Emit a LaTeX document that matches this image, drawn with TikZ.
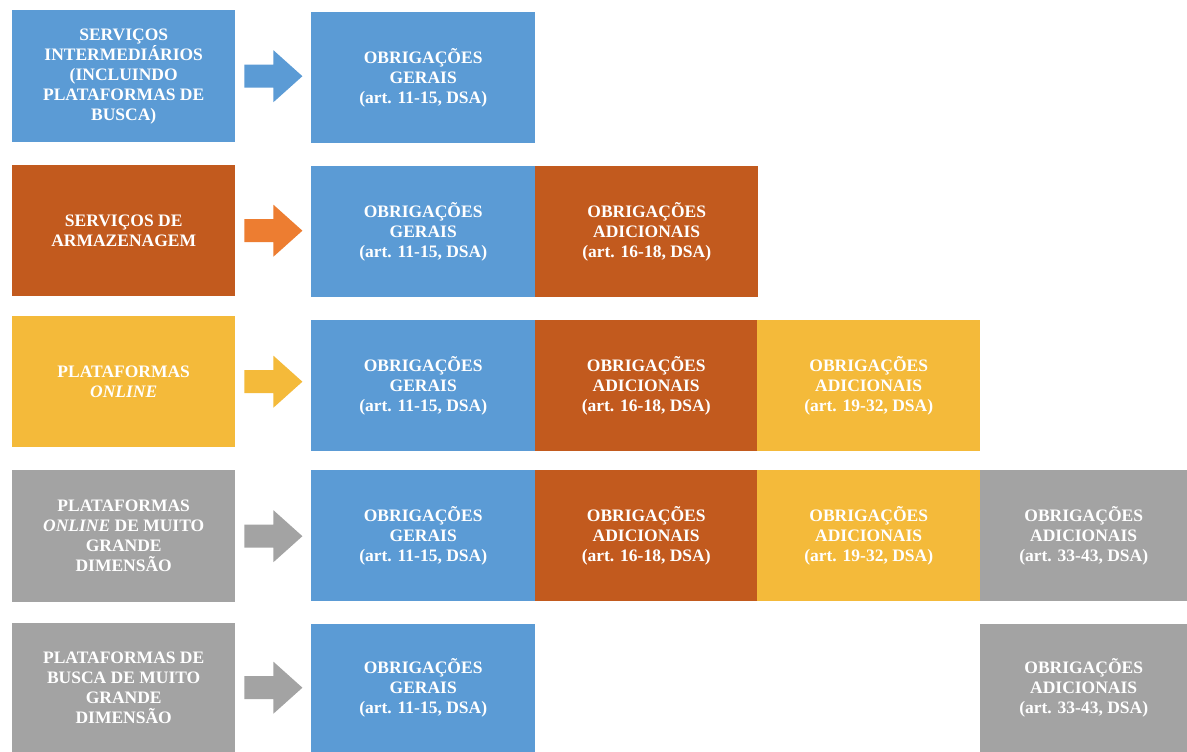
\documentclass[tikz,border=0pt]{standalone}
\usepackage{fontspec}
\setmainfont{Liberation Serif}
\usetikzlibrary{calc}
\definecolor{cblue}{HTML}{5B9BD5}
\definecolor{corange}{HTML}{C25A1E}
\definecolor{carrow}{HTML}{ED7D31}
\definecolor{cyellow}{HTML}{F4BA3A}
\definecolor{cgray}{HTML}{A3A3A3}
\tikzset{
  box/.style={anchor=north west, inner sep=0pt, text=white,
    font=\bfseries\fontsize{17.5}{20}\selectfont, align=center},
  lbox/.style={box, minimum width=223pt, minimum height=132pt},
  bluebox/.style={box, fill=cblue},
  orangebox/.style={box, fill=corange},
  yellowbox/.style={box, fill=cyellow},
  graybox/.style={box, fill=cgray},
}
\newcommand\blockarr[2]{%
  \fill[#2] ($(#1.east)+(9,-11.5)$) -- ($(#1.east)+(38,-11.5)$) -- ($(#1.east)+(38,-26)$)
    -- ($(#1.east)+(67,0)$) -- ($(#1.east)+(38,26)$) -- ($(#1.east)+(38,11.5)$)
    -- ($(#1.east)+(9,11.5)$) -- cycle;}
\begin{document}
\begin{tikzpicture}[x=1pt,y=-1pt]
\useasboundingbox[fill=white] (0,0) rectangle (1187,752);
% row 1
\node[lbox, fill=cblue, minimum height=132pt] (l1) at (12,10)
  {SERVIÇOS\\INTERMEDIÁRIOS\\(INCLUINDO\\PLATAFORMAS DE\\BUSCA)};
\node[bluebox, minimum width=224pt, minimum height=131pt] (g1) at (311,12)
  {OBRIGAÇÕES\\GERAIS\\(art. 11-15, DSA)};
\blockarr{l1}{cblue}
% row 2
\node[lbox, fill=corange, minimum height=131pt] (l2) at (12,165)
  {SERVIÇOS DE\\ARMAZENAGEM};
\node[bluebox, minimum width=224pt, minimum height=131pt] (g2) at (311,166)
  {OBRIGAÇÕES\\GERAIS\\(art. 11-15, DSA)};
\node[orangebox, minimum width=223pt, minimum height=131pt] (a2) at (535,166)
  {OBRIGAÇÕES\\ADICIONAIS\\(art. 16-18, DSA)};
\blockarr{l2}{carrow}
% row 3
\node[lbox, fill=cyellow, minimum height=131pt] (l3) at (12,316)
  {PLATAFORMAS\\\textit{ONLINE}};
\node[bluebox, minimum width=224pt, minimum height=131pt] (g3) at (311,320)
  {OBRIGAÇÕES\\GERAIS\\(art. 11-15, DSA)};
\node[orangebox, minimum width=222pt, minimum height=131pt] (a3) at (535,320)
  {OBRIGAÇÕES\\ADICIONAIS\\(art. 16-18, DSA)};
\node[yellowbox, minimum width=223pt, minimum height=131pt] (b3) at (757,320)
  {OBRIGAÇÕES\\ADICIONAIS\\(art. 19-32, DSA)};
\blockarr{l3}{cyellow}
% row 4
\node[lbox, fill=cgray, minimum height=132pt] (l4) at (12,470)
  {PLATAFORMAS\\\textit{ONLINE} DE MUITO\\GRANDE\\DIMENSÃO};
\node[bluebox, minimum width=224pt, minimum height=131pt] (g4) at (311,470)
  {OBRIGAÇÕES\\GERAIS\\(art. 11-15, DSA)};
\node[orangebox, minimum width=222pt, minimum height=131pt] (a4) at (535,470)
  {OBRIGAÇÕES\\ADICIONAIS\\(art. 16-18, DSA)};
\node[yellowbox, minimum width=223pt, minimum height=131pt] (b4) at (757,470)
  {OBRIGAÇÕES\\ADICIONAIS\\(art. 19-32, DSA)};
\node[graybox, minimum width=207pt, minimum height=131pt] (c4) at (980,470)
  {OBRIGAÇÕES\\ADICIONAIS\\(art. 33-43, DSA)};
\blockarr{l4}{cgray}
% row 5
\node[lbox, fill=cgray, minimum height=129pt] (l5) at (12,623)
  {PLATAFORMAS DE\\BUSCA DE MUITO\\GRANDE\\DIMENSÃO};
\node[bluebox, minimum width=224pt, minimum height=128pt] (g5) at (311,624)
  {OBRIGAÇÕES\\GERAIS\\(art. 11-15, DSA)};
\node[graybox, minimum width=207pt, minimum height=128pt] (c5) at (980,624)
  {OBRIGAÇÕES\\ADICIONAIS\\(art. 33-43, DSA)};
\blockarr{l5}{cgray}
\end{tikzpicture}
\end{document}
